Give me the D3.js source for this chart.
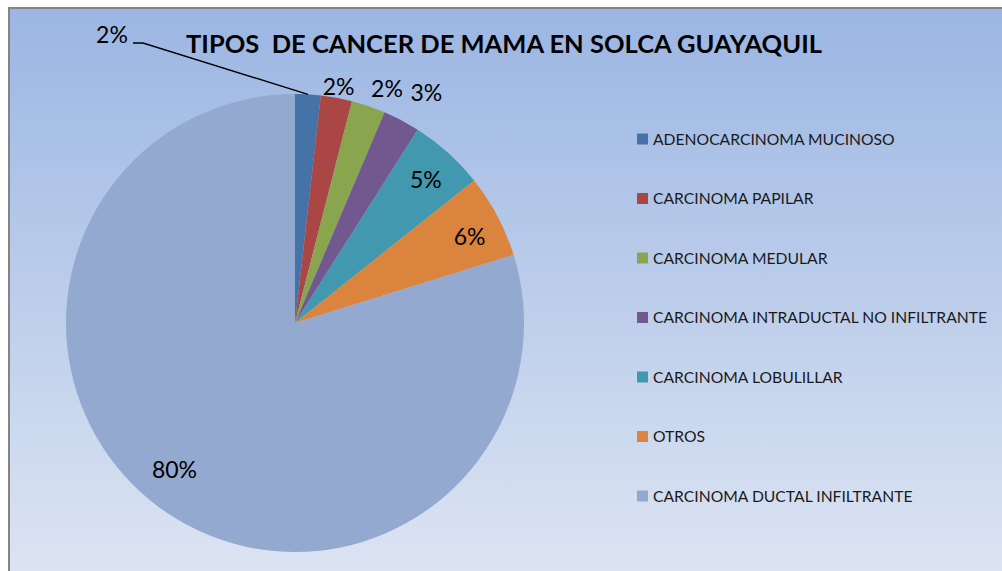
<!DOCTYPE html>
<html>
<head>
<meta charset="utf-8">
<script src="https://cdn.jsdelivr.net/npm/d3@7"></script>
<style>
  body { margin: 0; background: #ffffff; }
  svg { display: block; }
</style>
</head>
<body>
<div id="chart"></div>
<script>
// data
const categories = [
    'ADENOCARCINOMA MUCINOSO',
    'CARCINOMA PAPILAR',
    'CARCINOMA MEDULAR',
    'CARCINOMA INTRADUCTAL NO INFILTRANTE',
    'CARCINOMA LOBULILLAR',
    'OTROS',
    'CARCINOMA DUCTAL INFILTRANTE'
];
const values = [1.8, 2.2, 2.4, 2.6, 5.3, 5.9, 79.8];
const labels = ['2%', '2%', '2%', '3%', '5%', '6%', '80%'];
const colors = ['#4572a7', '#aa4643', '#89a54e', '#71588f', '#4198af', '#db843d', '#93a9cf'];

const title = 'TIPOS  DE CANCER DE MAMA EN SOLCA GUAYAQUIL';

var W = 1002, H = 571;
var cx = 295, cy = 323, radius = 229;
var font = 'Lato, "Open Sans", sans-serif';

// label distance as fraction of radius, and a small angle nudge (degrees)
// (excel put the small ones outside)
var labelRadius = [1.0, 1.05, 1.1, 1.157, 0.847, 0.85, 0.83];
var labelNudge = [0, 0, 2.7, 2, 0.5, 1.7, 3];

const svg = d3.select('#chart')
    .append('svg')
    .attr('width', W)
    .attr('height', H);

var defs = svg.append('defs');
var grad = defs.append('linearGradient')
    .attr('id', 'bg')
    .attr('x1', 0).attr('y1', 0)
    .attr('x2', 0).attr('y2', 1);
grad.append('stop').attr('offset', '0%').attr('stop-color', '#9bb6e3');
grad.append('stop').attr('offset', '100%').attr('stop-color', '#dfe6f3');

// chart area (runs off the right and bottom edge)
svg.append('rect')
    .attr('x', 9)
    .attr('y', 8)
    .attr('width', W + 20)
    .attr('height', H + 20)
    .attr('fill', 'url(#bg)')
    .attr('stroke', '#848484')
    .attr('stroke-width', 2);

svg.append('text')
    .attr('x', 504)
    .attr('y', 53)
    .attr('text-anchor', 'middle')
    .attr('font-family', font)
    .attr('font-weight', 'bold')
    .attr('font-size', 25.5)
    .attr('fill', '#000')
    .attr('xml:space', 'preserve')
    .text(title);

///////////////////////////////
// PIE
///////////////////////////////
const pie = d3.pie().sort(null).value(d => d)(values);
const arc = d3.arc().innerRadius(0).outerRadius(radius);

const g = svg.append('g').attr('transform', 'translate(' + cx + ',' + cy + ')');

g.selectAll('path')
    .data(pie)
    .enter()
    .append('path')
        .attr('d', arc)
        .attr('fill', (d, i) => colors[i])
        .attr('stroke', 'none');

// labels
pie.forEach(function(d, i) {
    var a = (d.startAngle + d.endAngle) / 2;
    if (i == 0) {
        // first label was dragged out to the top left with a leader line
        var ex = Math.sin(a) * radius, ey = -Math.cos(a) * radius;
        g.append('polyline')
            .attr('points', [[-162, -280], [-152, -280], [ex, ey]].map(p => p.join(',')).join(' '))
            .attr('fill', 'none')
            .attr('stroke', '#000')
            .attr('stroke-width', 1.5);
        g.append('text')
            .attr('x', -183)
            .attr('y', -288)
            .attr('dy', '0.35em')
            .attr('text-anchor', 'middle')
            .attr('font-family', font)
            .attr('font-size', 23)
            .text(labels[i]);
        return;
    }
    var r = radius * labelRadius[i];
    a += labelNudge[i] * Math.PI / 180;
    g.append('text')
        .attr('x', Math.sin(a) * r)
        .attr('y', -Math.cos(a) * r)
        .attr('dy', '0.35em')
        .attr('text-anchor', 'middle')
        .attr('font-family', font)
        .attr('font-size', 23)
        .attr('fill', '#000')
        .text(labels[i]);
});

///////////////////////////////
// LEGEND
///////////////////////////////
var ly = d3.scalePoint()
    .domain(categories)
    .range([139, 496]);

const legend = svg.append('g')
    .selectAll('g')
    .data(categories)
    .enter()
    .append('g')
        .attr('transform', d => 'translate(637,' + ly(d) + ')');

legend.append('rect')
    .attr('x', 0)
    .attr('y', -5.5)
    .attr('width', 11)
    .attr('height', 11)
    .attr('fill', (d, i) => colors[i]);

legend.append('text')
    .attr('x', 16)
    .attr('y', 0)
    .attr('dy', '0.36em')
    .attr('font-family', font)
    .attr('font-size', 15.7)
    .attr('fill', '#1a1a1a')
    .text(d => d);
</script>
</body>
</html>
